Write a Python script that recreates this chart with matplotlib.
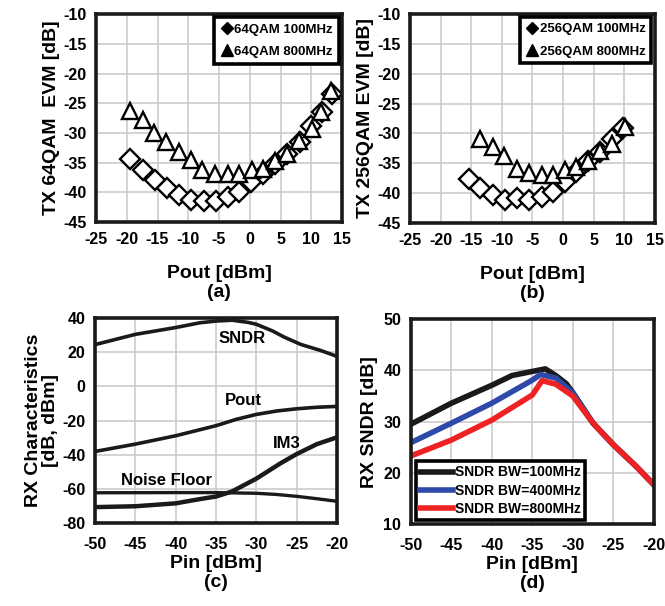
import numpy as np
import matplotlib.pyplot as plt
from matplotlib.lines import Line2D

plt.rcParams['font.family'] = ['Liberation Sans', 'DejaVu Sans']
plt.rcParams['font.weight'] = 'bold'
plt.rcParams['axes.labelweight'] = 'bold'
plt.rcParams['axes.unicode_minus'] = False

# (a) TX 64QAM EVM
a_d_x = [-19.4, -17.4, -15.4, -13.5, -11.5, -9.6, -7.5, -5.5, -3.6, -1.7, 0.2, 2.2, 4.1, 6.1, 8.2, 10.0, 11.7, 13.3]
a_d_y = [-34.4, -36.3, -38.0, -39.2, -40.4, -41.3, -41.5, -41.4, -40.8, -39.9, -38.2, -36.9, -35.3, -33.6, -31.6, -28.9, -26.5, -23.4]
a_t_x = [-19.4, -17.4, -15.5, -13.6, -11.5, -9.6, -7.7, -5.7, -3.6, -1.7, 0.3, 2.2, 4.1, 6.1, 8.0, 10.1, 11.6, 13.2]
a_t_y = [-26.3, -27.8, -30.1, -31.6, -33.3, -34.6, -36.3, -36.9, -36.9, -36.9, -36.3, -36.1, -34.8, -33.5, -31.3, -29.4, -26.5, -23.0]

# (b) TX 256QAM EVM
b_d_x = [-15.3, -13.5, -11.5, -9.5, -7.5, -5.5, -3.5, -1.6, 0.3, 2.2, 4.1, 6.1, 8.0, 9.8]
b_d_y = [-37.6, -39.1, -40.3, -41.1, -40.8, -41.1, -40.7, -39.8, -38.1, -36.4, -34.7, -33.1, -31.0, -29.1]
b_t_x = [-13.5, -11.5, -9.7, -7.5, -5.5, -3.5, -1.6, 0.3, 2.2, 4.1, 6.1, 8.0, 10.1]
b_t_y = [-31.0, -32.3, -33.8, -36.0, -36.7, -36.9, -36.9, -36.1, -35.6, -34.6, -32.9, -31.7, -28.9]

# (c) RX characteristics
c_sndr_x = [-50, -45, -40, -37, -35, -33, -31, -30, -28, -26.6, -24.5, -22, -20]
c_sndr_y = [24.5, 30.5, 34.5, 37.3, 38.3, 38.8, 37.5, 36.4, 32.5, 29.0, 24.6, 21.0, 17.6]
c_pout_x = [-50, -45, -40, -35, -32.5, -30, -27.5, -25, -22.5, -20]
c_pout_y = [-38.1, -33.8, -28.9, -23.0, -19.3, -16.4, -14.4, -13.1, -12.2, -11.7]
c_im3_x = [-50, -45, -40, -37, -35, -33, -30, -27, -25, -22.5, -20]
c_im3_y = [-70.7, -70.2, -68.5, -66.0, -64.5, -61.5, -54.0, -45.0, -39.6, -33.8, -29.8]
c_nf_x = [-50, -40, -35, -30, -27.5, -25, -22.5, -20]
c_nf_y = [-62.3, -62.2, -62.2, -62.6, -63.3, -64.4, -65.8, -67.3]

# (d) RX SNDR vs bandwidth
d_x_100 = [-50, -45, -40, -37.5, -35, -33.4, -32.1, -30.8, -30, -27.5, -25, -22.2, -20]
d_y_100 = [29.5, 33.6, 37.1, 39.0, 39.8, 40.3, 39.0, 37.4, 35.7, 29.7, 25.5, 21.3, 17.7]
d_x_400 = [-50, -45, -40, -35, -34, -32.1, -30, -27.5, -25, -22.2, -20]
d_y_400 = [25.9, 29.7, 33.6, 38.1, 39.2, 38.5, 35.6, 29.7, 25.5, 21.3, 17.7]
d_x_800 = [-50, -45, -40, -35, -33.8, -32.1, -30, -27.5, -25, -22.2, -20]
d_y_800 = [23.3, 26.4, 30.3, 35.2, 38.0, 37.3, 35.0, 29.7, 25.5, 21.3, 17.7]

fig = plt.figure(figsize=(6.65, 6.06), dpi=100)
ax_a = fig.add_axes([0.1444, 0.6337, 0.370, 0.343])
ax_b = fig.add_axes([0.6165, 0.632, 0.368, 0.345])
ax_c = fig.add_axes([0.1429, 0.137, 0.364, 0.338])
ax_d = fig.add_axes([0.618, 0.1353, 0.365, 0.338])


def style(ax, xpad=7):
    ax.grid(True, color='#c8c8c8', lw=1.1)
    ax.set_axisbelow(True)
    for s in ax.spines.values():
        s.set_linewidth(2.6)
        s.set_color('#1a1a1a')
    ax.tick_params(length=0, labelsize=11.5, pad=7)
    ax.tick_params(axis='x', pad=xpad)
    for lab in ax.get_xticklabels() + ax.get_yticklabels():
        lab.set_fontweight('bold')


def evm_panel(ax, dx, dy, tx, ty, ylab, xlab, leg1, leg2):
    ax.plot(dx, dy, linestyle='none', marker='D', ms=10, mfc='white', mec='black', mew=1.7)
    ax.plot(tx, ty, linestyle='none', marker='^', ms=11, mfc='white', mec='black', mew=1.7)
    ax.set_xlim(-25, 15)
    ax.set_ylim(-45, -10)
    ax.set_xticks(np.arange(-25, 16, 5))
    ax.set_yticks(np.arange(-45, -9, 5))
    ax.set_ylabel(ylab, fontsize=14, labelpad=2)
    ax.set_xlabel(xlab, fontsize=14, linespacing=1.2, labelpad=13)
    h = [Line2D([], [], ls='none', marker='D', ms=6, color='black'),
         Line2D([], [], ls='none', marker='^', ms=8, color='black')]
    leg = ax.legend(h, [leg1, leg2], loc='upper right', handletextpad=0.05,
                    handlelength=1.0, borderpad=0.45, labelspacing=0.75, fancybox=False,
                    framealpha=1, borderaxespad=0.25, prop={'weight': 'bold', 'size': 9.5})
    leg.get_frame().set_edgecolor('black')
    leg.get_frame().set_linewidth(2.6)
    style(ax)


evm_panel(ax_a, a_d_x, a_d_y, a_t_x, a_t_y, 'TX 64QAM  EVM [dB]', 'Pout [dBm]\n(a)',
          '64QAM 100MHz', '64QAM 800MHz')
evm_panel(ax_b, b_d_x, b_d_y, b_t_x, b_t_y, 'TX 256QAM EVM [dB]', 'Pout [dBm]\n(b)',
          '256QAM 100MHz', '256QAM 800MHz')

# (c)
ax_c.plot(c_sndr_x, c_sndr_y, color='#1a1a1a', lw=2.6)
ax_c.plot(c_pout_x, c_pout_y, color='#1a1a1a', lw=2.6)
ax_c.plot(c_nf_x, c_nf_y, color='#1a1a1a', lw=2.4)
ax_c.plot(c_im3_x, c_im3_y, color='#1a1a1a', lw=3.2)
ax_c.set_xlim(-50, -20)
ax_c.set_ylim(-80, 40)
ax_c.set_xticks(np.arange(-50, -19, 5))
ax_c.set_yticks(np.arange(-80, 41, 20))
ax_c.set_ylabel('RX Characteristics\n[dB, dBm]', fontsize=14, linespacing=1.0, labelpad=2)
ax_c.set_xlabel('Pin [dBm]\n(c)', fontsize=14, linespacing=1.15, labelpad=2)
ax_c.text(-31.8, 28, 'SNDR', fontsize=12, fontweight='bold', ha='center', va='center')
ax_c.text(-31.6, -8, 'Pout', fontsize=12, fontweight='bold', ha='center', va='center')
ax_c.text(-26.2, -33.5, 'IM3', fontsize=12, fontweight='bold', ha='center', va='center')
ax_c.text(-41.2, -55, 'Noise Floor', fontsize=12, fontweight='bold', ha='center', va='center')
style(ax_c, xpad=10)

# (d)
ax_d.plot(d_x_100, d_y_100, color='#1a1a1a', lw=4, label='SNDR BW=100MHz')
ax_d.plot(d_x_400, d_y_400, color='#2d4aa8', lw=4, label='SNDR BW=400MHz')
ax_d.plot(d_x_800, d_y_800, color='#ee2222', lw=4, label='SNDR BW=800MHz')
ax_d.set_xlim(-50, -20)
ax_d.set_ylim(10, 50)
ax_d.set_xticks(np.arange(-50, -19, 5))
ax_d.set_yticks(np.arange(10, 51, 10))
ax_d.set_ylabel('RX SNDR [dB]', fontsize=14, labelpad=4)
ax_d.set_xlabel('Pin [dBm]\n(d)', fontsize=14, linespacing=1.15, labelpad=2)
leg = ax_d.legend(loc='lower left', bbox_to_anchor=(0.02, 0.02), handlelength=2.4,
                  handletextpad=0.1, borderpad=0.3, labelspacing=0.3, fancybox=False,
                  framealpha=1, borderaxespad=0.0, prop={'weight': 'bold', 'size': 10})
leg.get_frame().set_edgecolor('black')
leg.get_frame().set_linewidth(2.6)
style(ax_d, xpad=10)

fig.savefig('out.png', dpi=100)
